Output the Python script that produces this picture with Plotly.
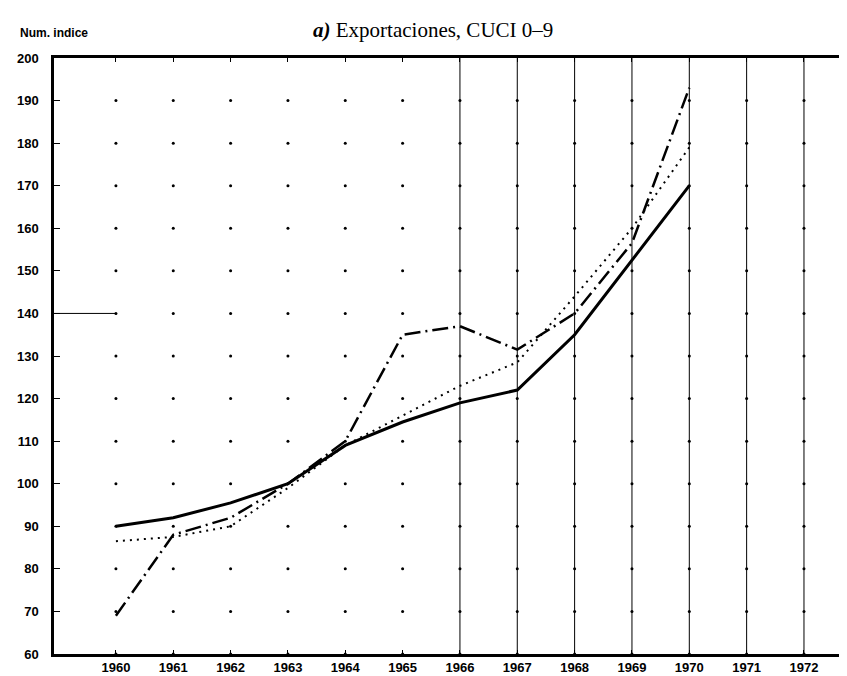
import plotly.graph_objects as go

years = [1960, 1961, 1962, 1963, 1964, 1965, 1966, 1967, 1968, 1969, 1970]
serie_continua = [90, 92, 95.5, 100, 109, 114.5, 119, 122, 135, 152.5, 170]
serie_punteada = [86.5, 87.5, 90, 99, 109, 116, 123, 128.5, 144, 160, 179]
serie_trazo_punto = [69, 88, 92, 100, 110, 135, 137, 131.5, 140, 156.5, 193]

x_ticks = list(range(1960, 1973))
x_tick_labels = [str(y) for y in x_ticks]
y_ticks = list(range(60, 201, 10))
full_line_years = [1966, 1967, 1968, 1969, 1970, 1971, 1972]

title_text = "<b><i>a)</i></b> Exportaciones, CUCI 0–9"
y_title = "Num. indice"

X0, X1 = 1958.92, 1972.89

fig = go.Figure()

# grid dots at every year / every 10 units
gx, gy = [], []
for xv in x_ticks:
    for yv in y_ticks[:-1]:
        gx.append(xv)
        gy.append(yv)
fig.add_trace(go.Scatter(x=gx, y=gy, mode="markers",
                         marker=dict(size=3, color="black"),
                         hoverinfo="skip", showlegend=False))

fig.add_trace(go.Scatter(x=years, y=serie_punteada, mode="lines",
                         line=dict(color="black", width=2, dash="2px,5px"),
                         showlegend=False))
fig.add_trace(go.Scatter(x=years, y=serie_trazo_punto, mode="lines",
                         line=dict(color="black", width=2.5, dash="16px,5px,2px,5px"),
                         showlegend=False))
fig.add_trace(go.Scatter(x=years, y=serie_continua, mode="lines",
                         line=dict(color="black", width=3),
                         showlegend=False))

shapes = []
for xv in full_line_years:
    shapes.append(dict(type="line", xref="x", yref="paper", x0=xv, x1=xv, y0=0, y1=1,
                       line=dict(color="black", width=1), layer="below"))
# short horizontal stroke at 140 from axis to 1960
shapes.append(dict(type="line", xref="paper", yref="y", x0=0, x1=(1960 - X0) / (X1 - X0),
                   y0=140, y1=140, line=dict(color="black", width=1)))
fig.update_layout(shapes=shapes)

fig.update_layout(
    width=847, height=676,
    margin=dict(l=46, r=0, t=50, b=30),
    paper_bgcolor="white", plot_bgcolor="white",
    showlegend=False,
    xaxis=dict(range=[X0, X1], tickvals=x_ticks, ticktext=x_tick_labels,
               showgrid=False, zeroline=False, showline=True, linecolor="black", linewidth=2.5,
               mirror="ticks", ticks="inside", ticklen=4, tickcolor="black", tickwidth=1,
               tickfont=dict(family="Liberation Sans", size=13, color="black", weight="bold"),
               ticklabelstandoff=0),
    yaxis=dict(range=[60, 200], tickvals=y_ticks, showgrid=False, zeroline=False,
               showline=True, linecolor="black", linewidth=2.5,
               ticks="inside", ticklen=6, tickcolor="black", tickwidth=1,
               tickfont=dict(family="Liberation Sans", size=13, color="black", weight="bold"),
               ticklabelstandoff=10),
    annotations=[
        dict(text=title_text, xref="paper", yref="paper", x=(303 - 46) / 801, y=1 + (50 - 22) / 596,
             xanchor="left", yanchor="middle", showarrow=False,
             font=dict(family="Liberation Serif", size=21, color="black")),
        dict(text="<b>" + y_title + "</b>", xref="paper", yref="paper", x=-(46 - 10) / 801,
             y=1 + (50 - 25) / 596, xanchor="left", yanchor="middle", showarrow=False,
             font=dict(family="Liberation Sans", size=12, color="black")),
    ],
)

fig.write_html("out.html")
